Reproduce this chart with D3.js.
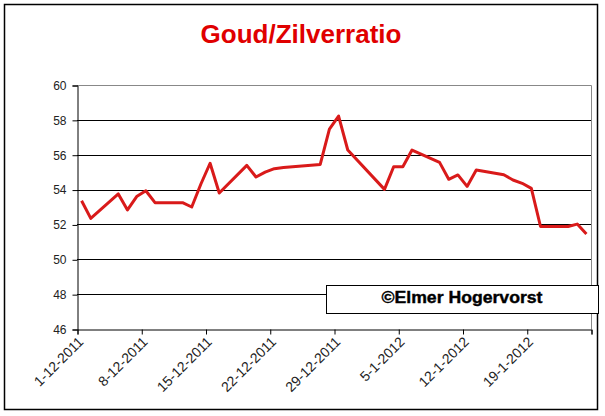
<!DOCTYPE html>
<html>
<head>
<meta charset="utf-8">
<script src="https://cdn.jsdelivr.net/npm/d3@7"></script>
<style>
  html, body { margin: 0; padding: 0; background: #fff; }
  svg { display: block; }
  text { font-family: Arial, "Liberation Sans", sans-serif; }
</style>
</head>
<body>
<svg id="chart" width="605" height="416"></svg>
<script>
// ---- data ----
const title = "Goud/Zilverratio";
const watermark = "©Elmer Hogervorst";
const dates = [
  "2011-12-01","2011-12-02","2011-12-05","2011-12-06","2011-12-07","2011-12-08","2011-12-09",
  "2011-12-12","2011-12-13","2011-12-14","2011-12-15","2011-12-16",
  "2011-12-19","2011-12-20","2011-12-21","2011-12-22","2011-12-23",
  "2011-12-27","2011-12-28","2011-12-29","2011-12-30",
  "2012-01-03","2012-01-04","2012-01-05","2012-01-06",
  "2012-01-09","2012-01-10","2012-01-11","2012-01-12","2012-01-13",
  "2012-01-16","2012-01-17","2012-01-18","2012-01-19","2012-01-20",
  "2012-01-23","2012-01-24","2012-01-25"
];
const ratio = [
  53.36, 52.35, 53.75, 52.83, 53.60, 53.93, 53.25,
  53.25, 53.00, 54.32, 55.51, 53.80,
  55.39, 54.72, 55.00, 55.20, 55.27,
  55.44, 57.47, 58.22, 56.27,
  54.01, 55.31, 55.31, 56.27,
  55.56, 54.59, 54.84, 54.18, 55.12,
  54.85, 54.55, 54.36, 54.07, 51.88,
  51.88, 52.02, 51.45
];
const xTickDates = ["2011-12-01","2011-12-08","2011-12-15","2011-12-22","2011-12-29","2012-01-05","2012-01-12","2012-01-19","2012-01-26"];
const xTickLabels = ["1-12-2011","8-12-2011","15-12-2011","22-12-2011","29-12-2011","5-1-2012","12-1-2012","19-1-2012",""];
const yTicks = [46, 48, 50, 52, 54, 56, 58, 60];

// ---- layout ----
const svg = d3.select("#chart");
const plot = { left: 77, right: 591, top: 85, bottom: 329 };
const parse = d3.utcParse("%Y-%m-%d");
const halfDay = 12 * 3600 * 1000;

const x = d3.scaleUtc()
  .domain([parse(xTickDates[0]), parse(xTickDates[xTickDates.length - 1])])
  .range([plot.left, plot.right]);
const y = d3.scaleLinear().domain([46, 60]).range([plot.bottom, plot.top]);

// outer frame
svg.append("rect")
  .attr("x", 4.5).attr("y", 4.5).attr("width", 593).attr("height", 405)
  .attr("fill", "#fff").attr("stroke", "#000").attr("stroke-width", 1.5);

// title
svg.append("text")
  .attr("x", 301).attr("y", 43)
  .attr("text-anchor", "middle")
  .attr("font-size", 26).attr("font-weight", "bold")
  .attr("fill", "#e00000")
  .text(title);

// gridlines
svg.append("g")
  .selectAll("line")
  .data(yTicks.filter(v => v > 46 && v < 60))
  .join("line")
  .attr("x1", plot.left).attr("x2", plot.right)
  .attr("y1", d => Math.round(y(d)) + 0.5).attr("y2", d => Math.round(y(d)) + 0.5)
  .attr("stroke", "#000").attr("stroke-width", 1);

// plot border top/right (gray)
svg.append("path")
  .attr("d", `M${plot.left},${plot.top + 0.5}H${plot.right + 0.5}V${plot.bottom}`)
  .attr("fill", "none").attr("stroke", "#888").attr("stroke-width", 1);

// y axis
const yAxis = d3.axisLeft(y).tickValues(yTicks).tickSize(5).tickPadding(6).tickFormat(d3.format("d"));
const gy = svg.append("g").attr("transform", `translate(${plot.left + 0.5},0.5)`).call(yAxis);
gy.selectAll("path, line").attr("stroke", "#000");
gy.selectAll("text").attr("font-size", 12).attr("fill", "#222")
  .style("font-family", "Arial, 'Liberation Sans', sans-serif");

// x axis
const xAxis = d3.axisBottom(x)
  .tickValues(xTickDates.map(parse))
  .tickSize(5)
  .tickFormat((d, i) => xTickLabels[i]);
const gx = svg.append("g").attr("transform", `translate(0.5,${plot.bottom + 0.5})`).call(xAxis);
gx.selectAll("path, line").attr("stroke", "#000");
gx.selectAll("text")
  .attr("font-size", 14).attr("fill", "#222")
  .style("font-family", "Arial, 'Liberation Sans', sans-serif")
  .attr("text-anchor", "end")
  .attr("dy", "0.35em")
  .attr("transform", "translate(-5,2) rotate(-45)")
  .attr("x", 0).attr("y", 11);

// line
const data = dates.map((d, i) => ({ t: new Date(parse(d).getTime() + halfDay), v: ratio[i] }));
svg.append("path")
  .datum(data)
  .attr("fill", "none")
  .attr("stroke", "#d91a1a")
  .attr("stroke-width", 3)
  .attr("stroke-linejoin", "round")
  .attr("d", d3.line().x(d => x(d.t)).y(d => y(d.v)));

// watermark box
svg.append("rect")
  .attr("x", 326.5).attr("y", 285.5).attr("width", 272).attr("height", 28)
  .attr("fill", "#fff").attr("stroke", "#000").attr("stroke-width", 1);
svg.append("text")
  .attr("x", 462).attr("y", 303)
  .attr("text-anchor", "middle")
  .attr("font-size", 16.5).attr("font-weight", "bold")
  .attr("fill", "#000")
  .attr("stroke", "#000").attr("stroke-width", 0.4)
  .attr("textLength", 161).attr("lengthAdjust", "spacingAndGlyphs")
  .text(watermark);
</script>
</body>
</html>
